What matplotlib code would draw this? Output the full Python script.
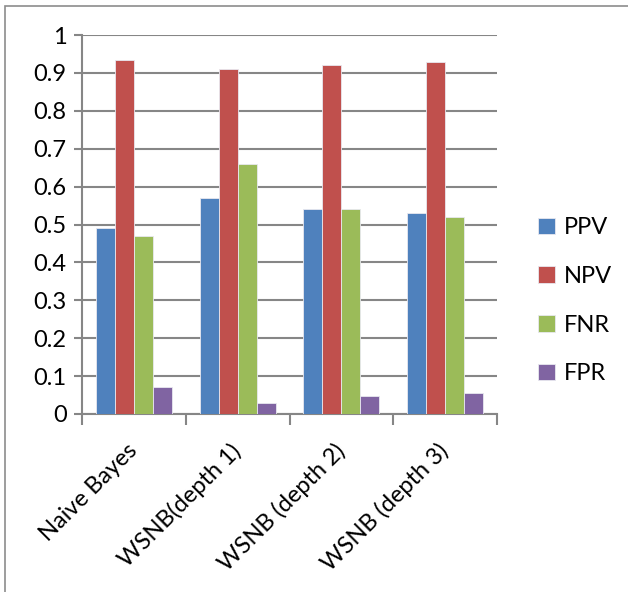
import matplotlib
matplotlib.use("Agg")
import matplotlib.pyplot as plt
import numpy as np
from matplotlib.patches import Rectangle

categories = ["Naive Bayes", "WSNB(depth 1)", "WSNB (depth 2)", "WSNB (depth 3)"]
series_names = ["PPV", "NPV", "FNR", "FPR"]
ppv = [0.49, 0.57, 0.54, 0.53]
npv = [0.933, 0.91, 0.92, 0.93]
fnr = [0.47, 0.66, 0.54, 0.52]
fpr = [0.07, 0.03, 0.048, 0.055]
colors = ["#4F81BD", "#C0504D", "#9BBB59", "#8064A2"]
yticks = [0, 0.1, 0.2, 0.3, 0.4, 0.5, 0.6, 0.7, 0.8, 0.9, 1]
ytick_labels = ["0", "0.1", "0.2", "0.3", "0.4", "0.5", "0.6", "0.7", "0.8", "0.9", "1"]

plt.rcParams['font.family'] = ['Lato', 'DejaVu Sans']
FS = 17
W, H = 628, 592
fig = plt.figure(figsize=(W/100, H/100), dpi=100)
ax = fig.add_axes([82/W, 1-414/H, (497-82)/W, (414-35)/H])

x = np.arange(len(categories))
bw = 19/104
data = [ppv, npv, fnr, fpr]
for i, (vals, c, name) in enumerate(zip(data, colors, series_names)):
    ax.bar(x + (i-1.5)*bw, vals, width=bw, color=c, edgecolor="#e8e8f0",
           linewidth=0.6, label=name, zorder=3)

ax.set_xlim(-0.5, len(categories)-0.5)
ax.set_ylim(0, 1)
ax.set_yticks(yticks)
ax.set_yticklabels(ytick_labels, fontsize=FS)
ax.yaxis.grid(True, color="#868686", linewidth=1.5, zorder=0)
ax.set_axisbelow(True)

ax.set_xticks(np.arange(len(categories)+1)-0.5)
ax.set_xticklabels([])
ax.set_xticks(x, minor=True)
ax.set_xticklabels(categories, minor=True, rotation=45, ha='right', va='center',
                   rotation_mode='anchor', fontsize=FS)
ax.tick_params(axis='x', which='minor', length=0, pad=24)
ax.tick_params(axis='x', which='major', length=8, width=1.5, color="#868686", direction='out')
ax.tick_params(axis='y', length=6, width=1.5, color="#868686", pad=5)

for s in ['top', 'right']:
    ax.spines[s].set_visible(False)
for s in ['left', 'bottom']:
    ax.spines[s].set_color("#868686")
    ax.spines[s].set_linewidth(1.5)

leg = fig.legend(loc='upper left', bbox_to_anchor=(517/W, 1-196/H), frameon=False,
                 fontsize=FS, handlelength=0.7, handleheight=0.7,
                 labelspacing=1.17, handletextpad=0.4)

fig.patches.append(Rectangle((5/W, -0.1), 1.2, 1-6/H+0.1, transform=fig.transFigure,
                             fill=False, edgecolor="#8c8c8c", linewidth=1.2))

fig.savefig("out.png", dpi=100)
